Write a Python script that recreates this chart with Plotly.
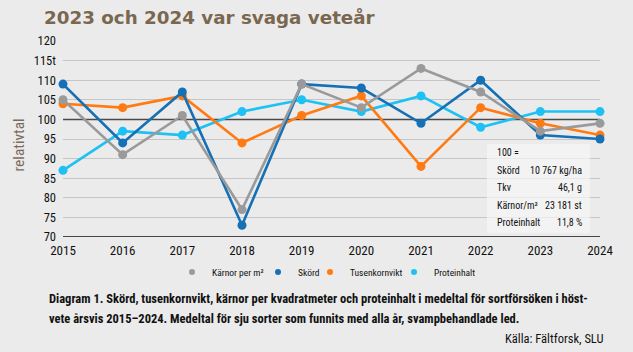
import plotly.graph_objects as go

years = [2015, 2016, 2017, 2018, 2019, 2020, 2021, 2022, 2023, 2024]
karnor = [105, 91, 101, 77, 109, 103, 113, 107, 97, 99]
skord = [109, 94, 107, 73, 109, 108, 99, 110, 96, 95]
tusen = [104, 103, 106, 94, 101, 106, 88, 103, 99, 96]
protein = [87, 97, 96, 102, 105, 102, 106, 98, 102, 102]

series_names = ["Kärnor per m²", "Skörd", "Tusenkornvikt", "Proteinhalt"]
series_colors = ["#9a9a9a", "#1570b5", "#ff7a12", "#1ec1f3"]

ytickvals = [70, 75, 80, 85, 90, 95, 100, 105, 110, 115, 120]
yticktext = ["70", "75", "80", "85", "90", "95", "100", "105", "110", "115t", "120"]

box_rows = [("Skörd", "10 767 kg/ha"), ("Tkv", "46,1 g"),
            ("Kärnor/m²", "23 181 st"), ("Proteinhalt", "11,8 %")]

W, H = 633, 352
L, R, T, B = 63, 600, 41, 237
NARROW = "Roboto Condensed, DejaVu Sans Condensed, sans-serif"
BG = "#ebebeb"


def px(x):
    return (x - L) / (R - L)


def py(y):
    return (B - y) / (B - T)


fig = go.Figure()
data = {"Kärnor per m²": karnor, "Skörd": skord, "Tusenkornvikt": tusen, "Proteinhalt": protein}
# draw order: light blue bottom, gray top
for name in ["Proteinhalt", "Tusenkornvikt", "Skörd", "Kärnor per m²"]:
    c = series_colors[series_names.index(name)]
    fig.add_trace(go.Scatter(x=years, y=data[name], mode="lines+markers", name=name,
                             line=dict(color=c, width=2.6), marker=dict(color=c, size=9),
                             cliponaxis=False, showlegend=False))

# legend entries, each in its own legend box placed like the reference
legend_marker_px = [191, 277, 329, 413]
legend_ids = ["legend", "legend2", "legend3", "legend4"]
for name, c, lid in zip(series_names, series_colors, legend_ids):
    fig.add_trace(go.Scatter(x=[None], y=[None], mode="markers", name=name,
                             marker=dict(color=c, size=6), showlegend=True, legend=lid))

layout_legends = {}
for lid, mx in zip(legend_ids, legend_marker_px):
    layout_legends[lid] = dict(orientation="h", x=px(mx - 19), y=py(272), xanchor="left",
                               yanchor="middle", font=dict(size=9.5, family=NARROW, color="#111"),
                               itemwidth=30, bgcolor="rgba(0,0,0,0)")

fig.update_layout(
    width=W, height=H,
    margin=dict(l=L, r=W - R, t=T, b=H - B),
    paper_bgcolor=BG, plot_bgcolor=BG,
    font=dict(family=NARROW, color="#111111"),
    xaxis=dict(range=[2015, 2024], tickvals=years, showgrid=False, zeroline=False,
               showline=False, tickfont=dict(size=13, family=NARROW, color="#111"),
               ticks="", ticklen=0, ticklabelstandoff=4),
    yaxis=dict(range=[70, 120], tickvals=ytickvals, ticktext=yticktext, showgrid=True,
               gridcolor="#c6c6c6", gridwidth=1.4, zeroline=False, showline=False,
               tickfont=dict(size=12.5, family=NARROW, color="#111"), ticks="", ticklen=0,
               ticklabelstandoff=6),
    **layout_legends,
)

# 100 reference line and bottom axis line
fig.add_shape(type="line", xref="x", yref="y", x0=2015, x1=2024, y0=100, y1=100,
              line=dict(color="#4a4a4a", width=1.5), layer="between")
fig.add_shape(type="line", xref="x", yref="y", x0=2015, x1=2024, y0=70, y1=70,
              line=dict(color="#111111", width=1.6), layer="between")

# info box
fig.add_shape(type="rect", xref="paper", yref="paper", x0=px(487), x1=px(590),
              y0=py(233), y1=py(144), fillcolor="rgba(247,247,247,0.7)",
              line=dict(width=0), layer="above")

ann = []
ann.append(dict(text="100 =", x=px(495), y=py(152.5), xanchor="left", yanchor="middle"))
for i, (k, v) in enumerate(box_rows):
    yy = 170 + i * 17.6
    ann.append(dict(text=k, x=px(495), y=py(yy), xanchor="left", yanchor="middle"))
    ann.append(dict(text=v, x=px(584), y=py(yy), xanchor="right", yanchor="middle"))
for a in ann:
    a.update(xref="paper", yref="paper", showarrow=False,
             font=dict(size=10, family=NARROW, color="#111"))
    fig.add_annotation(**a)

# title
fig.add_annotation(text="<b>2023 och 2024 var svaga veteår</b>", xref="paper", yref="paper",
                   x=px(42), y=py(17), xanchor="left", yanchor="middle", showarrow=False,
                   font=dict(size=18.3, family="DejaVu Sans, sans-serif", color="#7a6750"))
# y-axis title
fig.add_annotation(text="relativtal", xref="paper", yref="paper", x=px(18.5), y=py(145),
                   xanchor="center", yanchor="middle", textangle=-90, showarrow=False,
                   font=dict(size=15.5, family=NARROW, color="#7a6a5c"))
# caption
cap1 = "<b>Diagram 1. Skörd, tusenkornvikt, kärnor per kvadratmeter och proteinhalt i medeltal för sortförsöken i höst-</b>"
cap2 = "<b>vete årsvis 2015–2024. Medeltal för sju sorter som funnits med alla år, svampbehandlade led.</b>"
fig.add_annotation(text=cap1, xref="paper", yref="paper", x=px(47), y=py(298),
                   xanchor="left", yanchor="middle", showarrow=False,
                   font=dict(size=12.5, family=NARROW, color="#111"))
fig.add_annotation(text=cap2, xref="paper", yref="paper", x=px(47), y=py(318),
                   xanchor="left", yanchor="middle", showarrow=False,
                   font=dict(size=12.5, family=NARROW, color="#111"))
fig.add_annotation(text="Källa: Fältforsk, SLU", xref="paper", yref="paper", x=px(606), y=py(338),
                   xanchor="right", yanchor="middle", showarrow=False,
                   font=dict(size=12.5, family=NARROW, color="#111"))

fig.write_html("out.html")
